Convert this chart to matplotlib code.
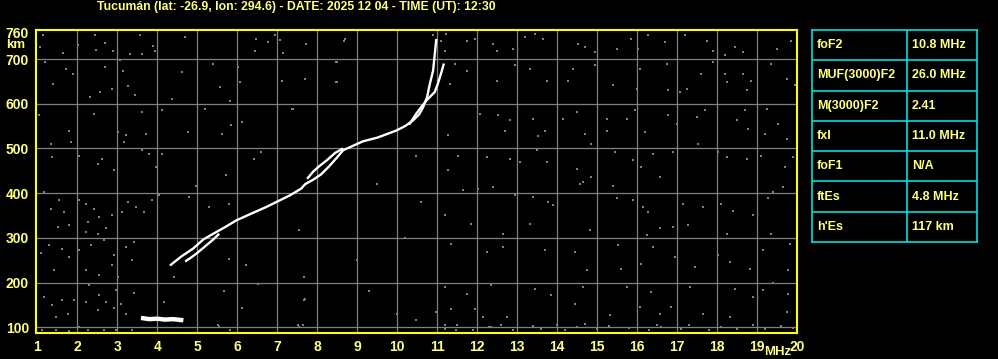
import numpy as np
import matplotlib
matplotlib.use('Agg')
import matplotlib.pyplot as plt

# ionogram traces (frequency in MHz, virtual height in km)
o_freq = [4.32, 4.6, 4.9, 5.15, 5.4, 5.7, 5.98, 6.35, 6.73, 7.0, 7.32, 7.6, 7.7, 7.9, 8.1, 8.3, 8.5,
          8.65, 8.9, 9.15, 9.5, 9.98, 10.2, 10.4, 10.55, 10.65, 10.75, 10.82, 10.9, 10.98]
o_height = [238, 258, 276, 296, 309, 324, 339, 354, 369, 381, 395, 410, 420, 430, 442, 460, 480,
            496, 506, 516, 524, 540, 550, 563, 576, 592, 615, 645, 674, 745]
low_freq = [4.7, 4.85, 5.0, 5.2, 5.4, 5.55]
low_height = [247, 256, 266, 281, 296, 309]
mid_freq = [7.75, 7.9, 8.05, 8.25, 8.45, 8.65]
mid_height = [432, 448, 460, 474, 490, 500]
x_freq = [10.3, 10.48, 10.6, 10.73, 10.85, 10.94, 11.02, 11.1, 11.17]
x_height = [553, 578, 592, 607, 618, 626, 645, 668, 690]
es_freq = [3.65, 3.8, 4.0, 4.2, 4.4, 4.6]
es_height = [120, 118, 119, 117, 118, 116]

# background noise
noise_f = [11.11, 11.74, 11.95, 12.4, 12.5, 12.9, 13.2, 13.45, 13.65, 14.53, 14.7, 14.95, 15.5, 15.86,
           16.03, 16.28, 16.7, 17.2, 17.74, 17.9, 18.2, 18.45, 18.65, 19.5, 19.86,
           11.45, 11.74, 12.49, 12.95, 13.32, 13.74, 14.4, 14.28, 14.95, 15.4, 15.99, 16.07, 16.74,
           16.78, 17.07, 17.24, 17.61, 17.9, 18.2, 18.24, 18.65, 18.86, 18.74, 19.36, 19.74, 19.95,
           12.07, 12.53, 12.82, 12.7, 13.4, 13.7, 13.53, 14.15, 14.49, 14.7, 14.86, 15.24, 15.24,
           15.74, 15.95, 16.2, 16.78, 16.99, 17.49, 17.53, 17.7, 18.49, 18.7, 18.78, 19.2, 19.24,
           19.53, 19.74,
           11.53, 12.24, 12.82, 13.07, 13.49, 13.74, 14.49, 14.86, 15.45, 15.9, 16.11, 16.4, 16.57,
           16.9, 18.03, 18.24, 18.74, 19.11, 19.7, 19.9,
           11.65, 12.03, 12.4, 12.95, 13.4, 13.78, 13.9, 14.57, 14.65, 15.4, 15.49, 15.9, 16.15,
           16.28, 16.57, 16.9, 17.15, 17.65, 17.28, 18.11, 18.4, 18.9, 19.28, 19.4, 19.65,
           11.2, 11.86, 12.65, 13.32, 14.82, 16.24, 18.24, 19.36,
           11.36, 12.24, 12.65, 13.7, 14.45, 14.74, 15.53, 15.61, 16.11, 16.4, 16.95, 17.45, 18.03,
           18.32, 18.82, 19.15, 19.82, 19.78,
           11.2, 11.74, 12.36, 12.74, 13.45, 13.86, 14.45, 14.65, 15.32, 15.74, 16.07, 16.36, 16.57,
           16.86, 17.32, 17.65, 18.32, 18.45, 18.9, 19.15, 19.4, 19.74, 19.78,
           11.2, 11.5, 11.9, 12.3, 12.6, 12.9, 13.4, 13.6, 14.0, 14.2, 14.5, 14.7, 15.0, 15.3, 15.8,
           16.3, 16.5, 16.6, 17.1, 17.3, 17.8, 18.1, 18.5, 18.9, 19.2, 19.6, 19.9,
           1.05, 1.34, 1.8, 1.84, 1.38, 2.05, 2.43, 2.51, 2.63, 2.93, 3.01, 3.22, 3.18, 3.63, 3.72,
           3.8, 4.13, 3.97, 3.63, 4.76, 5.84, 6.13, 5.63, 6.59, 6.43, 7.38, 5.72,
           1.18, 1.55, 1.34, 1.68, 2.05, 2.22, 2.43, 2.55, 2.26, 1.8, 1.51, 2.72, 2.22, 2.51, 2.88,
           3.26, 3.13, 3.47, 3.68, 3.88, 4.05, 4.8, 5.3, 5.8, 4.97,
           1.3, 1.63, 2.05, 2.34, 2.68, 2.93, 3.22, 3.43, 3.38, 1.09, 1.43, 1.8, 2.22, 2.55, 2.88,
           3.01, 4.43, 5.8, 6.22, 7.55, 7.68,
           1.18, 1.38, 1.63, 1.47, 1.76, 1.93, 2.22, 2.3, 2.55, 2.51, 2.72, 2.93, 2.97, 3.09, 3.22,
           3.43, 4.18, 5.68, 6.13, 6.51, 7.68, 1.13, 1.47, 1.8, 2.26, 2.68, 2.97, 3.38, 2.05, 5.55,
           7.55,
           1.15, 1.07, 1.19, 1.4, 1.65, 1.73, 1.9, 2.03, 2.32, 2.44, 2.48, 2.57, 2.69, 2.69, 2.86,
           2.9, 3.07, 3.15, 3.28, 3.32, 3.44, 3.57, 3.61, 3.9, 3.94, 4.11, 4.36, 4.61, 4.69, 5.19,
           5.4, 5.57, 5.82, 6.03, 6.07, 6.48, 6.44, 6.78, 6.94, 7.07, 7.15, 7.11, 7.4, 7.69, 7.73,
           8.48, 8.48, 8.69, 8.68, 8.49, 8.49, 10.9, 11.23, 11.19, 11.44, 11.32, 11.28, 10.48, 11.28,
           11.53, 5.53, 5.82, 6.11, 7.53, 7.65, 7.69, 10.48, 10.98, 11.19, 11.36, 11.48, 11.94,
           12.15, 12.36, 9.5, 10.2, 9.0, 10.6, 9.3, 10.0]
noise_h = [741, 741, 745, 734, 719, 723, 749, 756, 745, 734, 727, 715, 723, 745,
           723, 753, 738, 753, 741, 719, 708, 727, 715, 723, 741,
           689, 674, 652, 686, 678, 652, 678, 652, 686, 641, 633, 678, 689,
           630, 626, 633, 667, 693, 667, 648, 667, 652, 630, 689, 656, 641,
           578, 574, 563, 540, 566, 540, 527, 566, 581, 533, 510, 566, 540,
           566, 585, 537, 574, 555, 570, 510, 585, 563, 585, 544, 533, 589,
           555, 522,
           484, 481, 477, 470, 496, 470, 455, 436, 492, 473, 458, 488, 436,
           492, 492, 481, 477, 484, 458, 481,
           406, 410, 414, 395, 391, 380, 373, 421, 425, 417, 388, 384, 369,
           358, 321, 324, 376, 369, 328, 376, 361, 350, 388, 402, 414,
           350, 332, 309, 332, 317, 306, 309, 309,
           287, 268, 279, 272, 268, 227, 283, 231, 242, 280, 257, 235, 261,
           246, 231, 272, 287, 227,
           190, 175, 194, 123, 186, 171, 153, 190, 127, 190, 145, 179, 130,
           145, 190, 130, 123, 186, 168, 183, 198, 134, 175,
           96, 104, 93, 100, 106, 94, 102, 97, 105, 93, 100, 107, 95, 103, 98,
           94, 106, 100, 96, 104, 93, 101, 97, 105, 95, 103, 99,
           574, 510, 540, 514, 481, 484, 578, 466, 477, 451, 537, 529, 514, 496, 533,
           488, 488, 458, 581, 537, 552, 559, 533, 492, 477, 589, 440,
           403, 384, 365, 358, 384, 376, 365, 347, 335, 328, 324, 321, 313, 309, 350,
           380, 358, 369, 358, 384, 395, 391, 369, 376, 417,
           283, 276, 272, 283, 294, 261, 280, 291, 250, 265, 227, 257, 227, 216, 239,
           212, 212, 253, 239, 317, 212,
           168, 149, 160, 123, 130, 160, 157, 194, 171, 138, 157, 142, 183, 153, 130,
           177, 157, 181, 142, 197, 160, 93, 93, 91, 93, 93, 93, 93, 101, 101,
           101,
           753, 727, 693, 645, 713, 678, 667, 732, 616, 753, 721, 626, 736, 682, 633,
           717, 697, 673, 639, 712, 619, 753, 712, 730, 719, 585, 611, 671, 749, 589,
           689, 637, 607, 683, 648, 745, 719, 738, 753, 742, 713, 652, 589, 656, 734,
           693, 648, 745, 740, 693, 648, 753, 756, 719, 689, 645, 529, 484, 451,
           484, 104, 93, 144, 104, 104, 162, 116, 134, 104, 141, 93, 141,
           123, 100, 420, 300, 250, 380, 180, 130]

x_ticks = list(range(1, 21))
y_ticks = [100, 200, 300, 400, 500, 600, 700, 760]

table_keys = ['foF2', 'MUF(3000)F2', 'M(3000)F2', 'fxI', 'foF1', 'ftEs', "h'Es"]
table_vals = ['10.8 MHz', '26.0 MHz', '2.41', '11.0 MHz', 'N/A', '4.8 MHz', '117 km']

title = 'Tucumán (lat: -26.9, lon: 294.6) - DATE: 2025 12 04 - TIME (UT): 12:30'

W, H = 998, 359
txt_color = '#ffff80'
plt.rcParams['font.family'] = ['Liberation Sans', 'DejaVu Sans']

fig = plt.figure(figsize=(W / 100, H / 100), dpi=100, facecolor='black')

ax = fig.add_axes([36 / W, 1 - 333 / H, (797 - 36) / W, (333 - 30) / H], facecolor='black')
ax.set_xlim(0.97, 20.0)
ax.set_ylim(87, 765)

for f in range(2, 20):
    ax.axvline(f, color='#808080', lw=0.9, zorder=1)
for h in range(100, 800, 100):
    ax.axhline(h, color='#808080', lw=0.9, zorder=1)

ax.plot(noise_f, noise_h, 's', color='#808080', ms=1.9, mew=0, zorder=2)

for fx, hy in [(o_freq, o_height), (low_freq, low_height), (mid_freq, mid_height), (x_freq, x_height)]:
    ax.plot(fx, hy, color='white', lw=1.7, solid_capstyle='butt', zorder=3)
ax.plot(es_freq, es_height, color='white', lw=3.2, zorder=3)

ax.set_xticks(x_ticks)
ax.set_yticks(y_ticks)
ax.tick_params(length=0, colors=txt_color, labelsize=10, pad=5)
for lab in ax.get_xticklabels() + ax.get_yticklabels():
    lab.set_fontweight('bold')
for sp in ax.spines.values():
    sp.set_color('yellow')
    sp.set_linewidth(1.5)

fig.text(16 / W, 1 - 45 / H, 'km', color=txt_color, fontsize=9.5, fontweight='bold', ha='center', va='center')
fig.text(778 / W, 1 - 352 / H, 'MHz', color=txt_color, fontsize=9.5, fontweight='bold', ha='center', va='center')
fig.text(296 / W, 1 - 7 / H, title, color=txt_color, fontsize=8.8, fontweight='bold', ha='center', va='center')

# parameter table
tab = fig.add_axes([812 / W, 1 - 242 / H, (977 - 812) / W, (242 - 30) / H], facecolor='black')
tab.set_xlim(0, 165)
tab.set_ylim(len(table_keys), 0)
tab.set_xticks([])
tab.set_yticks([])
for sp in tab.spines.values():
    sp.set_color('#00e0e0')
    sp.set_linewidth(1.2)
tab.axvline(95, color='#00e0e0', lw=1.2)
for i in range(1, len(table_keys)):
    tab.axhline(i, color='#00e0e0', lw=1.2)
for i, (k, v) in enumerate(zip(table_keys, table_vals)):
    tab.text(5, i + 0.5, k, color=txt_color, fontsize=9, fontweight='bold', va='center', ha='left')
    tab.text(100, i + 0.5, v, color=txt_color, fontsize=9, fontweight='bold', va='center', ha='left')

fig.savefig('out.png', dpi=100, facecolor='black')
